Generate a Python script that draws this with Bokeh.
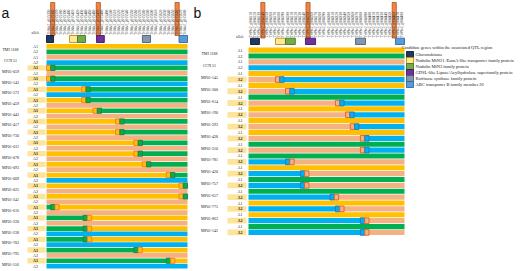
import numpy as np
from bokeh.plotting import figure
from bokeh.models import Range1d
from bokeh.layouts import row
from bokeh.core.properties import value
from bokeh.embed import file_html
from bokeh.resources import INLINE

# ---------------- data ----------------
SAMPLES_A = ["TMI 1188", "CCN 51", "MP01-059", "MP01-143", "MP01-572", "MP01-459", "MP01-443",
             "MP01-417", "MP01-730", "MP01-011", "MP01-078", "MP01-093", "MP01-009", "MP01-025",
             "MP01-241", "MP01-616", "MP01-220", "MP01-238", "MP01-703", "MP01-795", "MP01-556"]
A1_LEFT_A = ["Y", "S", "Y", "Y", "Y", "Y", "Y", "Y", "Y", "Y", "Y", "Y", "Y", "Y", "Y",
             "G", "G", "G", "G", "G", "G"]
A1_RIGHT_A = ["Y", "S", "G", "G", "G", "G", "G", "G", "G", "G", "G", "G", "G", "G", "G",
              "Y", "Y", "Y", "Y", "Y", "Y"]
A1_SWITCH_A = [None, None, 0.03, 0.03, 0.28, 0.28, 0.36, 0.52, 0.52, 0.65, 0.65, 0.71, 0.88,
               0.97, 0.97, 0.06, 0.29, 0.29, 0.29, 0.65, 0.88]
A2_A = ["G", "B", "S", "B", "B", "S", "S", "S", "S", "S", "S", "S", "B", "S", "S",
        "S", "S", "B", "B", "S", "B"]

SAMPLES_B = ["TMI 1188", "CCN 51", "MP01-145", "MP01-300", "MP01-614", "MP01-190", "MP01-393",
             "MP01-428", "MP01-310", "MP01-781", "MP01-420", "MP01-757", "MP01-657", "MP01-775",
             "MP01-863", "MP01-142"]
A1_B = ["Y", "S", "Y", "Y", "G", "Y", "Y", "Y", "G", "G", "Y", "G", "G", "Y", "Y", "G"]
A2_LEFT_B = ["G", "B", "S", "S", "S", "S", "S", "S", "S", "B", "B", "B", "B", "B", "B", "B"]
A2_RIGHT_B = ["G", "B", "B", "B", "B", "B", "B", "B", "B", "S", "S", "S", "S", "S", "S", "S"]
A2_SWITCH_B = [None, None, 0.20, 0.265, 0.585, 0.65, 0.68, 0.745, 0.745, 0.265, 0.36, 0.36,
               0.55, 0.585, 0.745, 0.745]

GENES_A = ["Tc04v2_g015350", "Tc04v2_g015360", "Tc04v2_g015370", "Tc04v2_g015380",
           "Tc04v2_g015390", "Tc04v2_g015400", "Tc04v2_g015410", "Tc04v2_g015420",
           "Tc04v2_g015430", "Tc04v2_g015440", "Tc04v2_g015450", "Tc04v2_g015460",
           "Tc04v2_g015470", "Tc04v2_g015480", "Tc04v2_g015490", "Tc04v2_g015500",
           "Tc04v2_g015510", "Tc04v2_g015520", "Tc04v2_g015530", "Tc04v2_g015540",
           "Tc04v2_g015550", "Tc04v2_g015560", "Tc04v2_g015570", "Tc04v2_g015580",
           "Tc04v2_g015590", "Tc04v2_g015600", "Tc04v2_g015610", "Tc04v2_g015620",
           "Tc04v2_g015630", "Tc04v2_g015640", "Tc04v2_g015650", "Tc04v2_g015660",
           "Tc04v2_g015670", "Tc04v2_g015680"]
GENES_B = ["Tc09v2_g004110", "Tc09v2_g004120", "Tc09v2_g004130", "Tc09v2_g004140",
           "Tc09v2_g004150", "Tc09v2_g004160", "Tc09v2_g004170", "Tc09v2_g004180",
           "Tc09v2_g004190", "Tc09v2_g004200", "Tc09v2_g004210", "Tc09v2_g004220",
           "Tc09v2_g004230", "Tc09v2_g004240", "Tc09v2_g004250", "Tc09v2_g004260",
           "Tc09v2_g004270", "Tc09v2_g004280", "Tc09v2_g004290", "Tc09v2_g004300",
           "Tc09v2_g004310", "Tc09v2_g004320", "Tc09v2_g004330", "Tc09v2_g004340",
           "Tc09v2_g004350", "Tc09v2_g004360", "Tc09v2_g004370", "Tc09v2_g004380",
           "Tc09v2_g004390", "Tc09v2_g004400", "Tc09v2_g004410", "Tc09v2_g004420",
           "Tc09v2_g004430", "Tc09v2_g004440", "Tc09v2_g004450", "Tc09v2_g004460",
           "Tc09v2_g004470", "Tc09v2_g004480"]
HL_COLS_A = [1, 12, 31]
HL_COLS_B = [3, 14, 35]

LEGEND_TITLE = "Candidate genes within the associated QTL region"
LEGEND_LABELS = ["Gluconokinase",
                 "Nodulin MtN21 /EamA-like transporter family protein",
                 "Nodulin MtN3 family protein",
                 "GDSL-like Lipase/Acylhydrolase superfamily protein",
                 "Raffinose synthase family protein",
                 "ABC transporter B family member 26"]
LEGEND_COLORS = ["#1F3864", "#FFE699", "#70AD47", "#7030A0", "#8497B0", "#5B9BD5"]
LEGEND_BORDERS = ["#0E1A30", "#BF9000", "#46752A", "#3E1A5A", "#4E5E72", "#2E6AA6"]

# candidate-gene positions along the region (fraction of the haplotype bar)
GM_A_START = [0.0, 0.163, 0.22, 0.355, 0.68, 0.94]
GM_A_END = [0.05, 0.22, 0.277, 0.41, 0.738, 1.0]
GM_B_START = [0.013, 0.173, 0.237, 0.365, 0.686, 0.942]
GM_B_END = [0.07, 0.237, 0.30, 0.43, 0.75, 1.0]

HAP_COLORS = {"Y": "#FFC000", "G": "#00B050", "S": "#F4B183", "B": "#00B0F0"}
HAP_BORDERS = {"Y": "#ED7D31", "G": "#2F7A3A", "S": "#E0602A", "B": "#2E75B6"}

SERIF = value("Liberation Serif")
SANS = value("Liberation Sans")


def make_panel(letter, fig_x0, fig_w, bar_x0, bar_w, row_y0, row_h, samples, rows, bold_rows,
               genes, hl_cols, gm_start, gm_end, lab_x, allele_x, hl_box, allele_y,
               gene_bottom, sq_top, sq_bot, legend=False):
    X = lambda px: (px - bar_x0) / bar_w
    Y = lambda py: (py - row_y0) / row_h
    p = figure(width=fig_w, height=271, x_range=Range1d(X(fig_x0), X(fig_x0 + fig_w)),
               y_range=Range1d(Y(271), Y(0)), output_backend="svg", toolbar_location=None,
               x_axis_location=None, y_axis_location=None, min_border=0,
               outline_line_color=None, tools="")
    p.grid.grid_line_color = None
    p.background_fill_color = "white"

    # highlight boxes behind bold allele labels
    hb = [r for r in bold_rows]
    p.quad(left=[X(hl_box[0])] * len(hb), right=[X(hl_box[1])] * len(hb),
           top=[r for r in hb], bottom=[r + 1 for r in hb], fill_color="#FDE49B",
           line_color=None)

    # haplotype bars
    L, R, T, B, C = [], [], [], [], []
    mk = dict(l=[], r=[], t=[], b=[], c=[], lc=[])
    for ri, (lc, rc, sw) in enumerate(rows):
        if sw is None:
            segs = [(0.0, 1.0, lc)]
        else:
            segs = [(0.0, sw, lc), (sw, 1.0, rc)]
        for a, b2, c in segs:
            L.append(a); R.append(b2); T.append(ri + 0.06); B.append(ri + 0.94); C.append(HAP_COLORS[c])
        if sw is not None:
            w = 4.3 / bar_w
            for a, b2, c in [(sw - w, sw, lc), (sw, sw + w, rc)]:
                mk["l"].append(a); mk["r"].append(b2); mk["t"].append(ri + 0.02)
                mk["b"].append(ri + 0.98); mk["c"].append(HAP_COLORS[c]); mk["lc"].append(HAP_BORDERS[c])
    p.quad(left=L, right=R, top=T, bottom=B, fill_color=C, line_color=None)
    p.quad(left=mk["l"], right=mk["r"], top=mk["t"], bottom=mk["b"], fill_color=mk["c"],
           line_color=mk["lc"], line_width=0.9)

    # sample names
    ns = len(samples)
    p.text(x=[X(lab_x)] * ns, y=[2 * i + 1.15 for i in range(ns)], text=samples,
           text_font=SERIF, text_font_size=value("4px"), text_align="center",
           text_baseline="middle", text_color="#222222")
    # allele labels
    nr = len(rows)
    norm = [r for r in range(nr) if r not in bold_rows]
    p.text(x=[X(allele_x)] * len(norm), y=[r + 0.5 for r in norm],
           text=["A1" if r % 2 == 0 else "A2" for r in norm], text_font=SERIF,
           text_font_size=value("4px"), text_align="center", text_baseline="middle",
           text_color="#222222")
    p.text(x=[X(allele_x)] * len(bold_rows), y=[r + 0.5 for r in bold_rows],
           text=["A1" if r % 2 == 0 else "A2" for r in bold_rows], text_font=SERIF,
           text_font_size=value("4px"), text_font_style="bold", text_align="center",
           text_baseline="middle", text_color="#111111")
    p.text(x=[X(allele_x)], y=[Y(allele_y)], text=["allele"], text_font=SERIF,
           text_font_size=value("3.6px"), text_align="center", text_baseline="middle",
           text_color="#222222")

    # gene id header
    n = len(genes)
    cx = [(k + 0.5) / n for k in range(n)]
    hw = 0.5 / n
    p.quad(left=[cx[k] - hw for k in hl_cols], right=[cx[k] + hw for k in hl_cols],
           top=[Y(2)] * len(hl_cols), bottom=[Y(gene_bottom)] * len(hl_cols),
           fill_color="#EE8545", line_color="#B4511A", line_width=0.8)
    p.text(x=cx, y=[Y(gene_bottom - 0.8)] * n, text=genes, angle=np.pi / 2,
           text_font=SERIF, text_font_size=value("3.6px"), text_align="left",
           text_baseline="middle", text_color="#333333")
    # candidate gene squares
    p.quad(left=gm_start, right=gm_end, top=[Y(sq_top)] * 6, bottom=[Y(sq_bot)] * 6,
           fill_color=LEGEND_COLORS, line_color=LEGEND_BORDERS, line_width=0.9)

    # panel letter
    p.text(x=[X(fig_x0 + 1)], y=[Y(12.5)], text=[letter], text_font=SANS,
           text_font_size=value("14px"), text_align="left", text_baseline="alphabetic",
           text_color="#111111")

    if legend:
        p.text(x=[X(401)], y=[Y(46.5)], text=[LEGEND_TITLE], text_font=SERIF,
               text_font_size=value("4.5px"), text_align="left", text_baseline="middle",
               text_color="#222222")
        k = len(LEGEND_LABELS)
        p.quad(left=[X(406)] * k, right=[X(413)] * k,
               top=[Y(51 + 6 * i) for i in range(k)], bottom=[Y(57 + 6 * i) for i in range(k)],
               fill_color=LEGEND_COLORS, line_color=LEGEND_BORDERS, line_width=0.9)
        p.text(x=[X(415)] * k, y=[Y(54 + 6 * i) for i in range(k)], text=LEGEND_LABELS,
               text_font=SERIF, text_font_size=value("4.5px"), text_align="left",
               text_baseline="middle", text_color="#222222")
    return p


rows_a = []
for i in range(len(SAMPLES_A)):
    rows_a.append((A1_LEFT_A[i], A1_RIGHT_A[i], A1_SWITCH_A[i]))
    rows_a.append((A2_A[i], A2_A[i], None))
bold_a = [2 * i for i in range(2, len(SAMPLES_A))]

rows_b = []
for i in range(len(SAMPLES_B)):
    rows_b.append((A1_B[i], A1_B[i], None))
    rows_b.append((A2_LEFT_B[i], A2_RIGHT_B[i], A2_SWITCH_B[i]))
bold_b = [2 * i + 1 for i in range(2, len(SAMPLES_B))]

pa = make_panel("a", 0, 192, 46, 141, 43.3, 5.357, SAMPLES_A, rows_a, bold_a, GENES_A,
                HL_COLS_A, GM_A_START, GM_A_END, lab_x=10, allele_x=35, hl_box=(27, 45),
                allele_y=32.5, gene_bottom=35, sq_top=35, sq_bot=42)
pb = make_panel("b", 192, 328, 248, 156, 46.7, 5.88, SAMPLES_B, rows_b, bold_b, GENES_B,
                HL_COLS_B, GM_B_START, GM_B_END, lab_x=209, allele_x=239.5, hl_box=(227, 246),
                allele_y=36.5, gene_bottom=37.5, sq_top=37.7, sq_bot=44, legend=True)

layout = row(pa, pb)
open("out.html", "w").write(file_html(layout, INLINE))
